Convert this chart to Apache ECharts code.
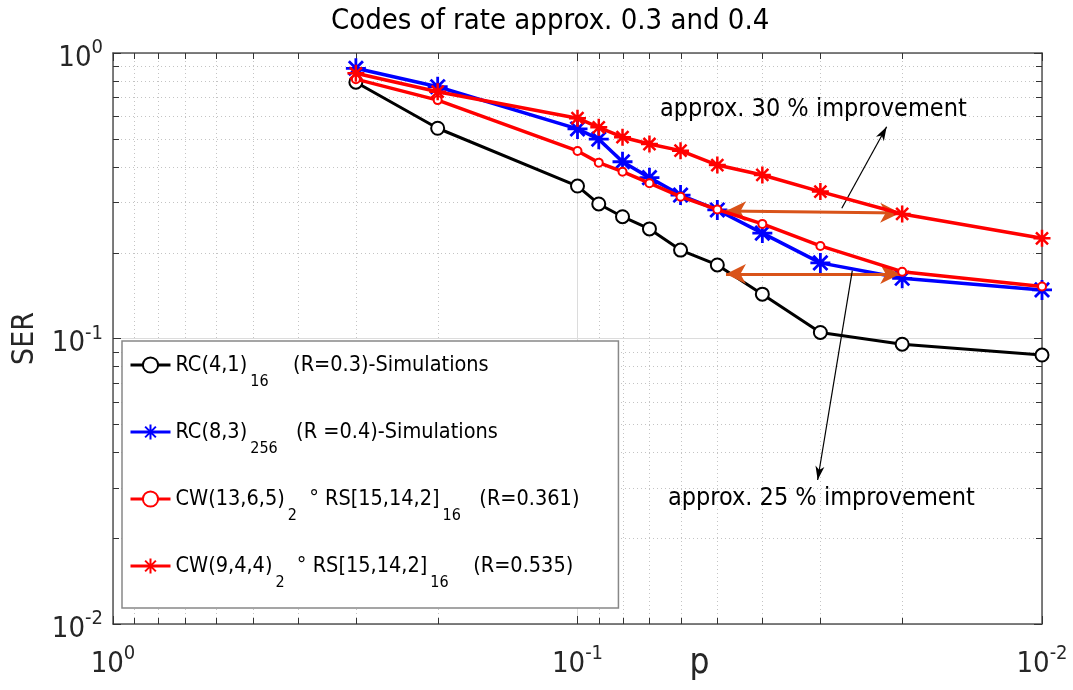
<!DOCTYPE html>
<html><head><meta charset="utf-8">
<script src="https://cdn.jsdelivr.net/npm/echarts@6/dist/echarts.min.js"></script>
<style>html,body{margin:0;padding:0;background:#fff}#c{width:1073px;height:690px}</style>
</head><body><div id="c"></div>
<script>
// ---- data ----
const pValues   = [0.3, 0.2, 0.1, 0.09, 0.08, 0.07, 0.06, 0.05, 0.04, 0.03, 0.02, 0.01];
const serRC41   = [0.79, 0.545, 0.342, 0.296, 0.267, 0.242, 0.204, 0.181, 0.143, 0.105, 0.0955, 0.0875];
const serRC83   = [0.884, 0.762, 0.542, 0.499, 0.416, 0.366, 0.318, 0.282, 0.234, 0.184, 0.1625, 0.148];
const serCW1365 = [0.81, 0.684, 0.454, 0.413, 0.384, 0.35, 0.314, 0.283, 0.252, 0.211, 0.1714, 0.152];
const serCW944  = [0.849, 0.732, 0.591, 0.549, 0.507, 0.48, 0.455, 0.405, 0.374, 0.327, 0.273, 0.2244];
const seriesNames = ['RC41', 'RC83', 'CW1365', 'CW944'];
const legendLabels = {
  RC41:   '{t|RC(4,1)}{s|16}{t|    (R=0.3)-Simulations}',
  RC83:   '{t|RC(8,3)}{s|256}{t|   (R =0.4)-Simulations}',
  CW1365: '{t|CW(13,6,5)}{s|2}{t|  ° RS[15,14,2]}{s|16}{t|   (R=0.361)}',
  CW944:  '{t|CW(9,4,4)}{s|2}{t|  ° RS[15,14,2]}{s|16}{t|    (R=0.535)}'
};
const minorTickValues = [0.02, 0.03, 0.04, 0.05, 0.06, 0.07, 0.08, 0.09,
                         0.2, 0.3, 0.4, 0.5, 0.6, 0.7, 0.8, 0.9];
const titleText = 'Codes of rate approx. 0.3 and 0.4';
const annotationTexts = ['approx. 30 % improvement', 'approx. 25 % improvement'];
// double arrows (data coords [p, SER])
const improvementArrows = [
  [[0.0479, 0.2796], [0.0202, 0.2752]],
  [[0.0479, 0.1682], [0.0202, 0.1682]]
];
// pointer arrows (tail -> head)
const pointerArrows = [
  [[0.02698, 0.2858], [0.0216, 0.5518]],
  [[0.02561, 0.1728], [0.03041, 0.03194]]
];

// ---- chart ----
const FONT = "'DejaVu Sans Condensed', 'DejaVu Sans', sans-serif";
const STAR = 'path://M0,-10L0,10M-10,0L10,0M-7.07,-7.07L7.07,7.07M-7.07,7.07L7.07,-7.07';
const VBACK = 'path://M0,0L9,18L0,13L-9,18Z';
const pairs = ys => pValues.map((p, i) => [p, ys[i]]);

const minorData = [];
minorTickValues.forEach(v => { minorData.push([v, 0.5, 0]); minorData.push([0.5, v, 1]); });

function powLabel(v) {
  const e = Math.round(Math.log10(v));
  return '{m|10}{e|' + e + '}';
}
const powRich = {
  m: { fontSize: 29, fontFamily: FONT, color: '#262626', lineHeight: 40 },
  e: { fontSize: 20, fontFamily: FONT, color: '#262626', lineHeight: 40, verticalAlign: 'top' }
};

const axisLineStyle = { color: '#555', width: 1.5 };
const tickStyle = { color: '#333', width: 1 };

const markLineData = [];
improvementArrows.forEach(a => {
  markLineData.push([
    { coord: a[0], symbol: VBACK, symbolSize: [20, 20], symbolOffset: [0, 10],
      lineStyle: { color: '#D95319', width: 3, type: 'solid' } },
    { coord: a[1], symbol: VBACK, symbolSize: [20, 20], symbolOffset: [0, 10] }
  ]);
});
pointerArrows.forEach(a => {
  markLineData.push([
    { coord: a[0], symbol: 'none', lineStyle: { color: '#000', width: 1.2, type: 'solid' } },
    { coord: a[1], symbol: VBACK, symbolSize: [9, 14], symbolOffset: [0, 7] }
  ]);
});

const chart = echarts.init(document.getElementById('c'), null, { renderer: 'canvas' });
chart.setOption({
  animation: false,
  backgroundColor: '#fff',
  title: {
    text: titleText, left: 331, top: 7, padding: 0,
    textStyle: { fontSize: 29, fontWeight: 'normal', color: '#000', fontFamily: FONT }
  },
  grid: { left: 113, right: 31, top: 53, bottom: 66, containLabel: false, outerBoundsMode: 'none' },
  legend: {
    data: seriesNames,
    orient: 'vertical', left: 122, top: 341,
    itemWidth: 40, itemHeight: 19, itemGap: 31,
    padding: [13, 39, 17, 7],
    backgroundColor: '#fff', borderColor: '#888', borderWidth: 1.5, borderRadius: 0,
    lineStyle: { width: 3 },
    formatter: name => legendLabels[name],
    textStyle: {
      color: '#000', fontFamily: FONT, fontSize: 21.5,
      rich: {
        t: { fontSize: 21.5, fontFamily: FONT, color: '#000', lineHeight: 48 },
        s: { fontSize: 16, fontFamily: FONT, color: '#000', lineHeight: 48, verticalAlign: 'bottom', height: 14, padding: [0, 0, 0, 3] }
      }
    }
  },
  xAxis: [{
    type: 'log', logBase: 10, min: 0.01, max: 1, inverse: true, position: 'bottom',
    axisLine: { show: true, onZero: false, lineStyle: axisLineStyle },
    axisTick: { show: true, inside: true, length: 8, lineStyle: tickStyle },
    axisLabel: { formatter: powLabel, rich: powRich, margin: 20 },
    splitLine: { show: true, lineStyle: { color: '#dcdcdc', width: 1 } },
    minorTick: { show: false }, minorSplitLine: { show: false },
    name: 'p', nameLocation: 'middle', nameGap: 22, nameMoveOverlap: false,
    nameTextStyle: { fontSize: 35, fontFamily: FONT, color: '#262626', padding: [0, 0, 0, 244] }
  }, {
    type: 'log', logBase: 10, min: 0.01, max: 1, inverse: true, position: 'top',
    axisLine: { show: true, onZero: false, lineStyle: axisLineStyle },
    axisTick: { show: true, inside: true, length: 8, lineStyle: tickStyle },
    axisLabel: { show: false }, splitLine: { show: false }
  }],
  yAxis: [{
    type: 'log', logBase: 10, min: 0.01, max: 1, position: 'left',
    axisLine: { show: true, onZero: false, lineStyle: axisLineStyle },
    axisTick: { show: true, inside: true, length: 8, lineStyle: tickStyle },
    axisLabel: { formatter: powLabel, rich: powRich, margin: 10, padding: [10, 0, 0, 0] },
    splitLine: { show: true, lineStyle: { color: '#dcdcdc', width: 1 } },
    name: 'SER', nameLocation: 'middle', nameGap: 73, nameRotate: 90, nameMoveOverlap: false,
    nameTextStyle: { fontSize: 30, fontFamily: FONT, color: '#262626' }
  }, {
    type: 'log', logBase: 10, min: 0.01, max: 1, position: 'right',
    axisLine: { show: true, onZero: false, lineStyle: axisLineStyle },
    axisTick: { show: true, inside: true, length: 8, lineStyle: tickStyle },
    axisLabel: { show: false }, splitLine: { show: false }
  }],
  graphic: [
    { type: 'text', x: 660, y: 109, z: 20,
      style: { text: annotationTexts[0], font: '25px ' + FONT, fill: '#000', verticalAlign: 'middle' } },
    { type: 'text', x: 668, y: 498, z: 20,
      style: { text: annotationTexts[1], font: '25px ' + FONT, fill: '#000', verticalAlign: 'middle' } }
  ],
  series: [
    {
      type: 'custom', name: 'minorGrid', silent: true, z: 1,
      xAxisIndex: 0, yAxisIndex: 0, data: minorData,
      renderItem: (params, api) => {
        const cs = params.coordSys;
        const kind = api.value(2);
        const dot = { stroke: '#c4c4c4', lineWidth: 1, lineDash: [1, 3], fill: null };
        const tk = { stroke: '#333', lineWidth: 1, fill: null };
        const pt = api.coord([api.value(0), api.value(1)]);
        if (kind === 0) {
          const px = Math.round(pt[0]) + 0.5;
          return { type: 'group', children: [
            { type: 'line', shape: { x1: px, y1: cs.y, x2: px, y2: cs.y + cs.height }, style: dot },
            { type: 'line', shape: { x1: px, y1: cs.y + cs.height, x2: px, y2: cs.y + cs.height - 6 }, style: tk },
            { type: 'line', shape: { x1: px, y1: cs.y, x2: px, y2: cs.y + 6 }, style: tk }
          ]};
        }
        const py = Math.round(pt[1]) + 0.5;
        return { type: 'group', children: [
          { type: 'line', shape: { x1: cs.x, y1: py, x2: cs.x + cs.width, y2: py }, style: dot },
          { type: 'line', shape: { x1: cs.x, y1: py, x2: cs.x + 6, y2: py }, style: tk },
          { type: 'line', shape: { x1: cs.x + cs.width, y1: py, x2: cs.x + cs.width - 6, y2: py }, style: tk }
        ]};
      }
    },
    {
      name: 'RC41', type: 'line', data: pairs(serRC41), z: 3,
      symbol: 'emptyCircle', symbolSize: 13,
      lineStyle: { color: '#000', width: 3 },
      itemStyle: { color: '#000', borderColor: '#000', borderWidth: 2.5 }
    },
    {
      name: 'RC83', type: 'line', data: pairs(serRC83), z: 4,
      symbol: STAR, symbolSize: 20,
      lineStyle: { color: '#0000ff', width: 3.5 },
      itemStyle: { color: '#0000ff', borderColor: '#0000ff', borderWidth: 2.8 }
    },
    {
      name: 'CW1365', type: 'line', data: pairs(serCW1365), z: 5,
      symbol: 'emptyCircle', symbolSize: 8,
      lineStyle: { color: '#ff0000', width: 3.5 },
      itemStyle: { color: '#ff0000', borderColor: '#ff0000', borderWidth: 2 }
    },
    {
      name: 'CW944', type: 'line', data: pairs(serCW944), z: 6,
      symbol: STAR, symbolSize: 17,
      lineStyle: { color: '#ff0000', width: 3.5 },
      itemStyle: { color: '#ff0000', borderColor: '#ff0000', borderWidth: 2.5 },
      markLine: {
        silent: true, animation: false, label: { show: false },
        emphasis: { disabled: true },
        data: markLineData
      }
    }
  ]
});
</script></body></html>
